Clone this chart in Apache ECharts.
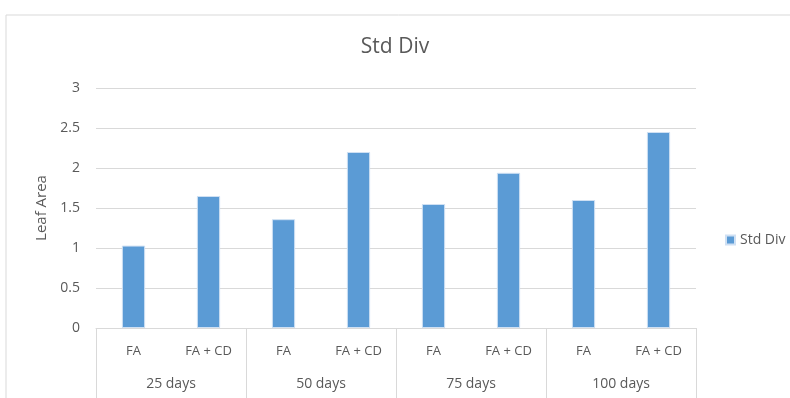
<!DOCTYPE html>
<html>
<head>
<meta charset="utf-8">
<script src="https://cdn.jsdelivr.net/npm/echarts@6/dist/echarts.min.js"></script>
<style>
  html, body { margin: 0; padding: 0; background: #fff; }
  #chart { width: 790px; height: 398px; }
</style>
</head>
<body>
<div id="chart"></div>
<script>
// Treatments within each sampling date, and the sampling dates themselves
const treatments = ['FA', 'FA + CD', 'FA', 'FA + CD', 'FA', 'FA + CD', 'FA', 'FA + CD'];
const groups = ['25 days', '50 days', '75 days', '100 days'];
// Standard deviation of leaf area per treatment
const stdDiv = [1.03, 1.65, 1.36, 2.20, 1.55, 1.94, 1.60, 2.45];
const yTicks = { min: 0, max: 3, step: 0.5 };

const textColor = '#595959';
const lineColor = '#d9d9d9';
const font = '"Open Sans", "Liberation Sans", sans-serif';

const chart = echarts.init(document.getElementById('chart'));
chart.setOption({
  animation: false,
  backgroundColor: '#ffffff',
  textStyle: { fontFamily: font },
  graphic: [{
    type: 'rect',
    shape: { x: 6, y: 15, width: 800, height: 400 },
    style: { fill: 'none', stroke: lineColor, lineWidth: 1 },
    silent: true
  }],
  title: {
    text: 'Std Div',
    left: 'center',
    top: 32,
    textStyle: { fontFamily: font, fontSize: 21, fontWeight: 'normal', color: textColor }
  },
  legend: {
    data: ['Std Div'],
    left: 720,
    top: 228,
    icon: 'rect',
    itemWidth: 9,
    itemHeight: 9,
    itemGap: 5,
    textStyle: { fontFamily: font, fontSize: 14, color: textColor }
  },
  grid: { left: 96, right: 94, top: 88, bottom: 70 },
  xAxis: [
    {
      type: 'category',
      data: treatments,
      position: 'bottom',
      axisLine: { show: true, lineStyle: { color: lineColor, width: 1 } },
      axisTick: { show: false },
      axisLabel: { margin: 17, fontFamily: font, fontSize: 13, color: textColor, interval: 0 }
    },
    {
      type: 'category',
      data: groups,
      position: 'bottom',
      axisLine: { show: false },
      axisTick: { show: true, length: 72, lineStyle: { color: lineColor, width: 1 } },
      axisLabel: { margin: 49, fontFamily: font, fontSize: 14, color: textColor, interval: 0 }
    }
  ],
  yAxis: {
    type: 'value',
    min: yTicks.min,
    max: yTicks.max,
    interval: yTicks.step,
    name: 'Leaf Area',
    nameLocation: 'middle',
    nameGap: 46,
    nameTextStyle: { fontFamily: font, fontSize: 15, color: textColor },
    axisLine: { show: false },
    axisTick: { show: false },
    axisLabel: { margin: 16, fontFamily: font, fontSize: 14, color: textColor },
    splitLine: { lineStyle: { color: lineColor, width: 1 } }
  },
  series: [{
    name: 'Std Div',
    type: 'bar',
    xAxisIndex: 0,
    data: stdDiv,
    barWidth: '31%',
    itemStyle: { color: '#5b9bd5', borderColor: '#cfe0f3', borderWidth: 1 }
  }]
});
</script>
</body>
</html>
